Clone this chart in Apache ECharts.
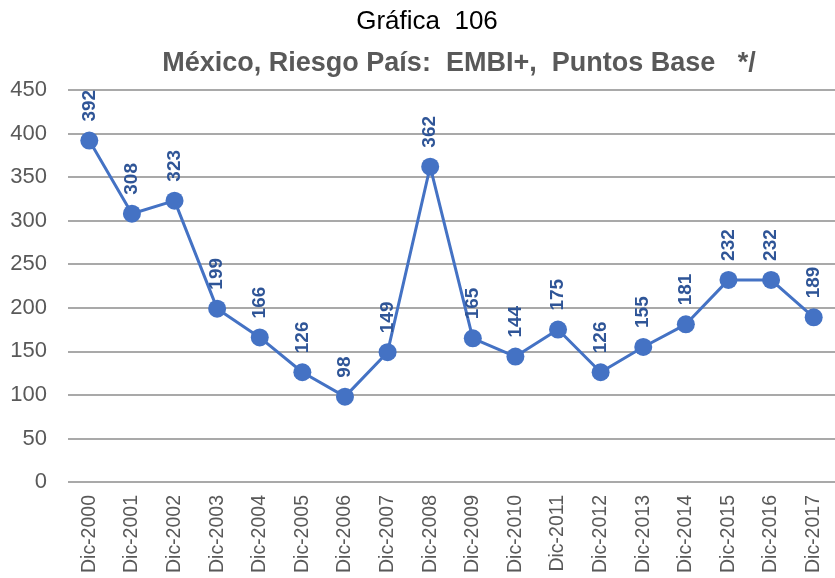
<!DOCTYPE html>
<html>
<head>
<meta charset="utf-8">
<script src="https://cdn.jsdelivr.net/npm/echarts@6/dist/echarts.min.js"></script>
<style>
  html, body { margin: 0; padding: 0; background: #ffffff; }
  #chart { width: 835px; height: 578px; }
</style>
</head>
<body>
<div id="chart"></div>
<script>
// EMBI+ country-risk spread for Mexico, year-end values (basis points)
const categories = ['Dic-2000','Dic-2001','Dic-2002','Dic-2003','Dic-2004','Dic-2005','Dic-2006','Dic-2007','Dic-2008','Dic-2009','Dic-2010','Dic-2011','Dic-2012','Dic-2013','Dic-2014','Dic-2015','Dic-2016','Dic-2017'];
const embiValues = [392, 308, 323, 199, 166, 126, 98, 149, 362, 165, 144, 175, 126, 155, 181, 232, 232, 189];
const yTicks = [0, 50, 100, 150, 200, 250, 300, 350, 400, 450];

const chart = echarts.init(document.getElementById('chart'));
chart.setOption({
  animation: false,
  backgroundColor: '#ffffff',
  title: [
    {
      text: 'Gráfica  106',
      left: 422, top: 4, textAlign: 'center',
      textStyle: { fontFamily: 'Liberation Sans, Arial', fontSize: 26, fontWeight: 'normal', color: '#000000' }
    },
    {
      text: 'México, Riesgo País:  EMBI+,  Puntos Base   */',
      left: 454, top: 45, textAlign: 'center',
      textStyle: { fontFamily: 'Liberation Sans, Arial', fontSize: 27, fontWeight: 'bold', color: '#595959' }
    }
  ],
  grid: { left: 68, right: 0, top: 90, bottom: 96, containLabel: false },
  xAxis: {
    type: 'category',
    data: categories,
    boundaryGap: true,
    axisLine: { show: false },
    axisTick: { show: false },
    axisLabel: {
      rotate: 90, margin: 13, interval: 0,
      fontFamily: 'Liberation Sans, Arial', fontSize: 19.5, color: '#595959'
    }
  },
  yAxis: {
    type: 'value',
    min: yTicks[0], max: yTicks[yTicks.length - 1], interval: 50,
    axisLine: { show: false },
    axisTick: { show: false },
    axisLabel: {
      margin: 21,
      fontFamily: 'Liberation Sans, Arial', fontSize: 22, color: '#595959'
    },
    splitLine: { lineStyle: { color: '#8c8c8c', width: 1.6 } }
  },
  series: [{
    type: 'line',
    data: embiValues,
    symbol: 'circle',
    symbolSize: 18,
    lineStyle: { color: '#4472C4', width: 3 },
    itemStyle: { color: '#4472C4' },
    label: {
      show: true,
      position: 'top',
      rotate: 90,
      align: 'left',
      verticalAlign: 'middle',
      distance: 10,
      fontFamily: 'Liberation Sans, Arial',
      fontSize: 19,
      fontWeight: 'bold',
      color: '#2F5597'
    }
  }]
});
</script>
</body>
</html>
